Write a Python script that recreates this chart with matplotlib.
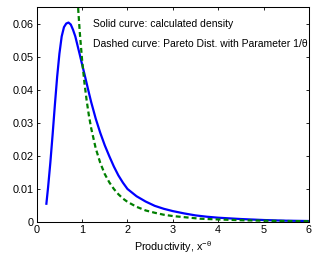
import matplotlib
matplotlib.use("Agg")
import matplotlib.pyplot as plt

plt.rcParams['font.family'] = ['Liberation Sans', 'DejaVu Sans']

# calculated density (solid curve)
x_solid = [0.21, 0.25, 0.30, 0.35, 0.40, 0.45, 0.50, 0.55, 0.60, 0.65, 0.70,
           0.75, 0.80, 0.85, 0.90, 0.95, 1.00, 1.05, 1.10, 1.15, 1.20, 1.30,
           1.40, 1.50, 1.60, 1.70, 1.80, 1.90, 2.00, 2.20, 2.40, 2.60, 2.80,
           3.00, 3.25, 3.50, 3.75, 4.00, 4.50, 5.00, 5.50, 6.00]
y_solid = [0.0052, 0.0105, 0.0180, 0.0265, 0.0355, 0.0440, 0.0510, 0.0562,
           0.0590, 0.0601, 0.0604, 0.0598, 0.0582, 0.0562, 0.0534, 0.0506,
           0.0477, 0.0449, 0.0420, 0.0391, 0.0363, 0.0313, 0.0270, 0.0232,
           0.0199, 0.0168, 0.0141, 0.0119, 0.0100, 0.0078, 0.0062, 0.0049,
           0.0040, 0.0033, 0.0026, 0.0020, 0.0016, 0.0013, 0.0009, 0.0006,
           0.0004, 0.0003]

# Pareto distribution (dashed curve)
x_pareto = [0.90, 0.95, 1.00, 1.05, 1.10, 1.15, 1.20, 1.30, 1.40, 1.50, 1.60,
            1.70, 1.80, 1.90, 2.00, 2.20, 2.40, 2.60, 2.80, 3.00, 3.30, 3.60,
            4.00, 4.50, 5.00, 5.50, 6.00]
y_pareto = [0.0672, 0.0572, 0.0490, 0.0423, 0.0368, 0.0322, 0.0284, 0.0223,
            0.0179, 0.0145, 0.0120, 0.0100, 0.0084, 0.0071, 0.0061, 0.0046,
            0.0035, 0.0028, 0.0022, 0.0018, 0.0014, 0.0010, 0.00077, 0.00054,
            0.00039, 0.00030, 0.00023]

xticks = [0, 1, 2, 3, 4, 5, 6]
yticks = [0, 0.01, 0.02, 0.03, 0.04, 0.05, 0.06]
ytick_labels = ['0', '0.01', '0.02', '0.03', '0.04', '0.05', '0.06']

fig = plt.figure(figsize=(3.14, 2.58), dpi=100)
ax = fig.add_axes([0.117, 0.1395, 0.867, 0.832])

ax.plot(x_solid, y_solid, color='#0000ff', lw=1.6, solid_capstyle='butt')
line, = ax.plot(x_pareto, y_pareto, color='#007f00', lw=1.6)
line.set_dashes((2.2, 1.4))

ax.set_xlim(0, 6)
ax.set_ylim(0, 0.065)
ax.set_xticks(xticks)
ax.set_xticklabels([str(t) for t in xticks])
ax.set_yticks(yticks)
ax.set_yticklabels(ytick_labels)
ax.tick_params(direction='in', top=True, right=True, length=2.2, width=0.6,
               labelsize=7.8, pad=2.5)
for s in ax.spines.values():
    s.set_linewidth(0.75)

ax.text(1.25, 0.0599, 'Solid curve: calculated density', fontsize=7.45, va='center')
ax.text(1.25, 0.0538, 'Dashed curve: Pareto Dist. with Parameter 1/θ',
        fontsize=7.45, va='center', clip_on=False, zorder=0)

ax.set_xlabel(r'Productivity, x$^{\mathregular{-θ}}$', fontsize=7.8, labelpad=3)

fig.savefig('out.png', dpi=100)
